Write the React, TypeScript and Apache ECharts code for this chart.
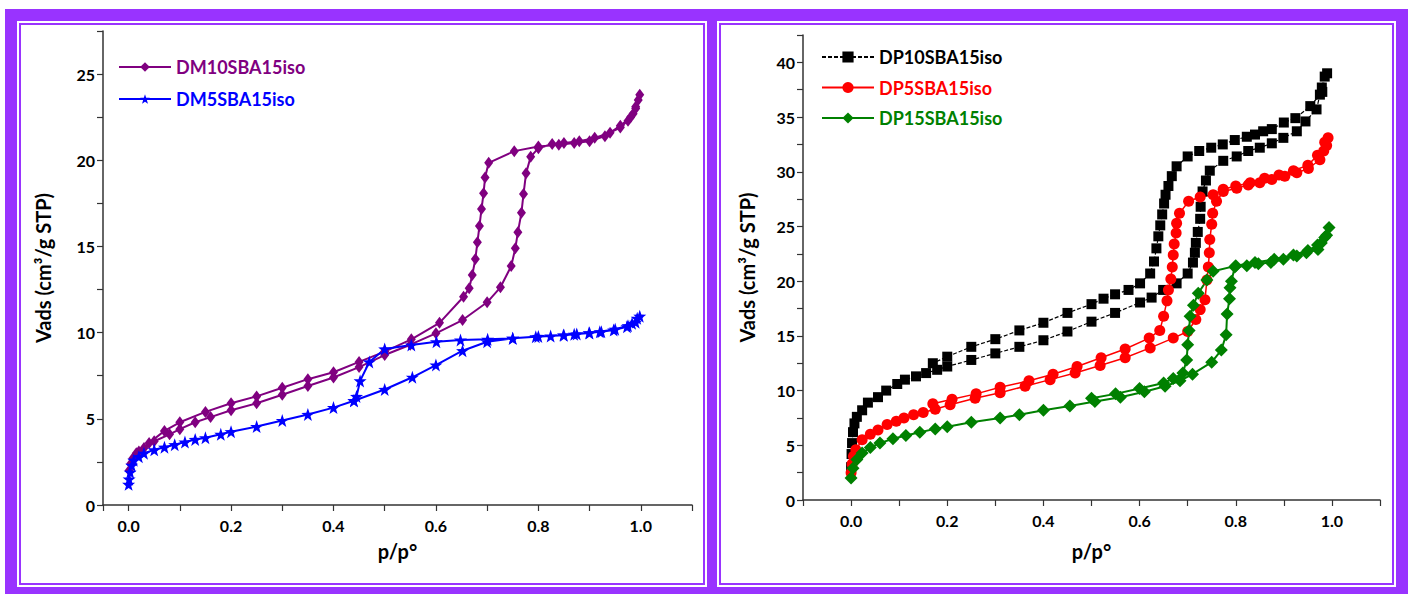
import React, { useEffect, useRef } from "react";
import * as echarts from "echarts";

// Isotherm branches as [p/p°, Vads] pairs
const dm10Ads: number[][] = [
  [0.001, 2.0], [0.004, 2.4], [0.008, 2.7], [0.015, 3.0], [0.03, 3.3], [0.05, 3.7], [0.08, 4.1],
  [0.1, 4.4], [0.13, 4.8], [0.16, 5.1], [0.2, 5.5], [0.25, 5.9], [0.3, 6.4], [0.35, 6.9], [0.4, 7.4],
  [0.45, 8.0], [0.5, 8.7], [0.55, 9.3], [0.6, 9.96], [0.652, 10.73], [0.7, 11.76], [0.726, 12.63],
  [0.747, 13.86], [0.755, 14.89], [0.76, 15.82], [0.767, 16.96], [0.771, 18.04], [0.776, 19.24],
  [0.785, 20.2], [0.8, 20.7], [0.827, 20.94], [0.85, 21.0], [0.88, 21.1], [0.91, 21.3], [0.94, 21.6],
  [0.96, 21.9], [0.975, 22.3], [0.985, 22.7], [0.99, 23.1], [0.995, 23.5], [0.998, 23.8],
];
const dm10Des: number[][] = [
  [0.99, 23.0], [0.98, 22.5], [0.96, 22.0], [0.93, 21.4], [0.9, 21.1], [0.87, 21.0], [0.84, 20.9],
  [0.8, 20.8], [0.753, 20.53], [0.703, 19.85], [0.696, 19.0], [0.693, 18.08], [0.689, 17.17],
  [0.685, 16.18], [0.681, 15.24], [0.677, 14.27], [0.671, 13.34], [0.665, 12.57], [0.654, 12.08],
  [0.607, 10.57], [0.552, 9.61], [0.5, 8.9], [0.45, 8.3], [0.4, 7.7], [0.35, 7.3], [0.3, 6.8],
  [0.25, 6.3], [0.2, 5.9], [0.15, 5.4], [0.1, 4.8], [0.07, 4.3], [0.04, 3.6], [0.02, 3.1],
];
const dm5Ads: number[][] = [
  [0.0, 1.2], [0.001, 1.5], [0.003, 1.9], [0.006, 2.3], [0.01, 2.6], [0.02, 2.8], [0.03, 3.0],
  [0.05, 3.2], [0.07, 3.35], [0.09, 3.5], [0.11, 3.65], [0.13, 3.8], [0.15, 3.9], [0.18, 4.1],
  [0.2, 4.25], [0.25, 4.55], [0.3, 4.9], [0.35, 5.25], [0.4, 5.65], [0.44, 6.05], [0.5, 6.7],
  [0.554, 7.41], [0.6, 8.12], [0.652, 8.95], [0.7, 9.47], [0.75, 9.67], [0.795, 9.76], [0.824, 9.8],
  [0.849, 9.86], [0.875, 9.92], [0.899, 9.99], [0.923, 10.05], [0.947, 10.15], [0.973, 10.34],
  [0.983, 10.54], [0.993, 10.83], [0.998, 10.95],
];
const dm5Des: number[][] = [
  [0.99, 10.6], [0.975, 10.4], [0.95, 10.2], [0.92, 10.05], [0.9, 9.98], [0.87, 9.9], [0.85, 9.85],
  [0.8, 9.78], [0.75, 9.67], [0.701, 9.61], [0.648, 9.57], [0.601, 9.47], [0.552, 9.28], [0.5, 9.05],
  [0.47, 8.3], [0.452, 7.2], [0.445, 6.3], [0.44, 6.05],
];

const dp10Ads: number[][] = [
  [0.0, 3.0], [0.001, 4.2], [0.002, 5.2], [0.004, 6.2], [0.007, 7.0], [0.012, 7.6], [0.023, 8.2],
  [0.035, 8.9], [0.056, 9.4], [0.073, 10.0], [0.096, 10.6], [0.112, 11.0], [0.135, 11.3],
  [0.156, 11.6], [0.179, 11.9], [0.2, 12.2], [0.25, 12.8], [0.3, 13.4], [0.35, 14.0], [0.4, 14.6],
  [0.45, 15.4], [0.5, 16.3], [0.549, 17.1], [0.601, 18.05], [0.625, 18.5], [0.649, 19.2],
  [0.677, 19.8], [0.7, 20.7], [0.711, 21.7], [0.715, 22.6], [0.717, 23.5], [0.721, 24.5],
  [0.726, 25.7], [0.727, 26.8], [0.731, 28.2], [0.738, 29.2], [0.746, 30.1], [0.774, 31.0],
  [0.802, 31.4], [0.826, 31.9], [0.85, 32.2], [0.875, 32.6], [0.899, 33.1], [0.927, 33.7],
  [0.945, 34.6], [0.968, 35.7], [0.975, 37.05], [0.979, 37.7], [0.985, 38.7], [0.99, 39.0],
];
const dp10Des: number[][] = [
  [0.98, 37.3], [0.955, 36.0], [0.924, 34.9], [0.9, 34.5], [0.875, 33.9], [0.857, 33.7],
  [0.84, 33.4], [0.823, 33.2], [0.798, 32.9], [0.773, 32.5], [0.749, 32.2], [0.724, 31.9],
  [0.7, 31.4], [0.677, 30.5], [0.667, 29.6], [0.66, 28.7], [0.654, 27.9], [0.651, 27.1],
  [0.647, 26.1], [0.643, 25.1], [0.639, 24.1], [0.635, 23.0], [0.63, 21.8], [0.622, 20.7],
  [0.601, 19.8], [0.577, 19.2], [0.549, 18.8], [0.525, 18.4], [0.5, 17.9], [0.45, 17.1],
  [0.4, 16.2], [0.35, 15.5], [0.3, 14.7], [0.25, 14.0], [0.2, 13.1], [0.17, 12.5],
];
const dp5Ads: number[][] = [
  [0.0, 2.5], [0.002, 3.3], [0.005, 4.0], [0.01, 4.6], [0.023, 5.5], [0.04, 6.0], [0.056, 6.4],
  [0.075, 6.9], [0.094, 7.2], [0.11, 7.5], [0.13, 7.8], [0.15, 8.0], [0.175, 8.3], [0.206, 8.7],
  [0.258, 9.3], [0.31, 9.8], [0.362, 10.4], [0.414, 11.0], [0.466, 11.6], [0.518, 12.3], [0.57, 13.0],
  [0.622, 13.9], [0.67, 14.8], [0.7, 15.4], [0.717, 16.5], [0.726, 17.4], [0.736, 18.3], [0.74, 20.1],
  [0.743, 21.3], [0.745, 22.6], [0.746, 23.8], [0.75, 25.2], [0.752, 26.2], [0.76, 27.3],
  [0.774, 28.2], [0.802, 28.5], [0.826, 28.8], [0.85, 29.0], [0.875, 29.3], [0.902, 29.6],
  [0.927, 29.9], [0.951, 30.3], [0.975, 31.1], [0.983, 31.9], [0.989, 32.4], [0.992, 33.1],
];
const dp5Des: number[][] = [
  [0.985, 32.7], [0.97, 31.5], [0.95, 30.6], [0.92, 30.1], [0.89, 29.7], [0.86, 29.4], [0.83, 29.0],
  [0.8, 28.7], [0.774, 28.4], [0.753, 27.9], [0.726, 27.7], [0.702, 27.3], [0.683, 26.2],
  [0.677, 25.3], [0.676, 24.4], [0.672, 23.4], [0.67, 22.4], [0.668, 21.3], [0.665, 20.2],
  [0.66, 19.2], [0.657, 18.2], [0.65, 16.8], [0.642, 15.5], [0.62, 14.8], [0.57, 13.8], [0.52, 13.0],
  [0.47, 12.2], [0.42, 11.5], [0.37, 10.9], [0.31, 10.3], [0.26, 9.7], [0.21, 9.2], [0.17, 8.8],
];
const dp15Ads: number[][] = [
  [0.0, 2.0], [0.004, 2.9], [0.012, 3.7], [0.023, 4.3], [0.04, 4.8], [0.06, 5.2], [0.087, 5.6],
  [0.114, 5.9], [0.143, 6.2], [0.175, 6.5], [0.2, 6.7], [0.25, 7.1], [0.31, 7.5], [0.35, 7.8],
  [0.4, 8.2], [0.455, 8.6], [0.507, 9.0], [0.56, 9.4], [0.61, 9.9], [0.653, 10.4], [0.684, 10.9],
  [0.71, 11.5], [0.75, 12.6], [0.77, 13.7], [0.78, 15.1], [0.782, 17.0], [0.787, 18.4],
  [0.788, 19.4], [0.791, 20.0], [0.798, 21.3], [0.823, 21.4], [0.847, 21.6], [0.873, 21.7],
  [0.899, 22.0], [0.927, 22.3], [0.947, 22.6], [0.971, 22.9], [0.978, 23.5], [0.989, 24.2],
  [0.994, 24.9],
];
const dp15Des: number[][] = [
  [0.985, 24.0], [0.97, 23.3], [0.95, 22.8], [0.92, 22.4], [0.88, 22.0], [0.84, 21.7], [0.8, 21.4],
  [0.753, 20.9], [0.74, 20.1], [0.722, 18.9], [0.712, 17.8], [0.705, 16.8], [0.703, 15.5],
  [0.7, 14.2], [0.698, 12.8], [0.69, 11.6], [0.67, 11.1], [0.65, 10.7], [0.6, 10.2], [0.55, 9.7],
  [0.5, 9.3],
];

const names = {
  dm10: "DM10SBA15iso",
  dm5: "DM5SBA15iso",
  dp10: "DP10SBA15iso",
  dp5: "DP5SBA15iso",
  dp15: "DP15SBA15iso",
};

const FRAME = "#9933ff";
const FONT = "Lato";
const AXIS_COLOR = "#333";
const STAR =
  "path://M0,-10L2.35,-3.24L9.51,-3.09L3.8,1.24L5.88,8.09L0,4L-5.88,8.09L-3.8,1.24L-9.51,-3.09L-2.35,-3.24Z";

const xLabel = (v: number) => {
  const t = Math.round(v * 10);
  return v > -1e-6 && v < 1.0001 && t % 2 === 0 ? (t / 10).toFixed(1) : "";
};
const yLabel = (v: number) => (Math.abs(v % 5) < 1e-6 ? String(Math.round(v)) : "");

const axisCommon = {
  axisLine: { onZero: false, lineStyle: { color: AXIS_COLOR, width: 1.5 } },
  axisTick: { inside: false, length: 6, lineStyle: { color: AXIS_COLOR, width: 1.2 } },
  splitLine: { show: false },
  nameTextStyle: { fontFamily: FONT, fontWeight: "bold" as const, fontSize: 20, color: "#000" },
};
const labelStyle = { fontFamily: FONT, fontWeight: "bold" as const, fontSize: 16, color: "#000" };

function makeXAxis(gridIndex: number, min: number, nameGap: number) {
  return {
    ...axisCommon,
    type: "value" as const,
    gridIndex,
    min,
    max: 1.1,
    splitNumber: 11,
    name: "p/p°",
    nameLocation: "middle" as const,
    nameGap,
    axisLabel: { ...labelStyle, margin: 12, formatter: xLabel },
  };
}
function makeYAxis(gridIndex: number, max: number, nameGap: number) {
  return {
    ...axisCommon,
    type: "value" as const,
    gridIndex,
    min: 0,
    max,
    interval: 2.5,
    name: "Vads (cm³/g STP)",
    nameLocation: "middle" as const,
    nameGap,
    axisLabel: { ...labelStyle, margin: 8, formatter: yLabel },
  };
}

function lineSeries(
  name: string,
  data: number[][],
  idx: number,
  color: string,
  symbol: string,
  symbolSize: number | number[],
  lineWidth: number,
  lineType: string | number[] = "solid"
) {
  return {
    type: "line" as const,
    name,
    xAxisIndex: idx,
    yAxisIndex: idx,
    data,
    symbol,
    symbolSize,
    showSymbol: true,
    smooth: false,
    color,
    itemStyle: { color },
    lineStyle: { color, width: lineWidth, type: lineType },
  };
}

const option = {
  animation: false,
  grid: [
    { left: 103, top: 31, width: 589, height: 474 },
    { left: 803, top: 35, width: 577, height: 465 },
  ],
  xAxis: [makeXAxis(0, -0.05, 36), makeXAxis(1, -0.1, 41)],
  yAxis: [makeYAxis(0, 27.5, 50), makeYAxis(1, 42.5, 46)],
  legend: [
    {
      left: 113,
      top: 53,
      orient: "vertical",
      itemWidth: 52,
      itemHeight: 12,
      itemGap: 14,
      textStyle: { fontFamily: FONT, fontWeight: "bold", fontSize: 18 },
      data: [
        { name: names.dm10, textStyle: { color: "#800080" } },
        { name: names.dm5, textStyle: { color: "#0000ff" } },
      ],
    },
    {
      left: 816,
      top: 43,
      orient: "vertical",
      itemWidth: 52,
      itemHeight: 14,
      itemGap: 12.5,
      textStyle: { fontFamily: FONT, fontWeight: "bold", fontSize: 18 },
      data: [
        { name: names.dp10, textStyle: { color: "#000000" } },
        { name: names.dp5, textStyle: { color: "#ff0000" } },
        { name: names.dp15, textStyle: { color: "#008000" } },
      ],
    },
  ],
  series: [
    lineSeries(names.dm10, [...dm10Ads, ...dm10Des], 0, "#800080", "diamond", [9, 12], 2),
    lineSeries(names.dm5, [...dm5Ads, ...dm5Des], 0, "#0000ff", STAR, 13, 2),
    lineSeries(names.dp10, [...dp10Ads, ...dp10Des], 1, "#000000", "rect", 10, 1.2, [4, 2]),
    lineSeries(names.dp5, [...dp5Ads, ...dp5Des], 1, "#ff0000", "circle", 11, 1.5),
    lineSeries(names.dp15, [...dp15Ads, ...dp15Des], 1, "#008000", "diamond", 13, 2),
  ],
};

export default function App() {
  const ref = useRef<HTMLDivElement>(null);
  useEffect(() => {
    if (!ref.current) return;
    const chart = echarts.init(ref.current, null, { renderer: "svg" });
    chart.setOption(option as any);
    return () => chart.dispose();
  }, []);

  const panel = (left: number, width: number) => (
    <div
      style={{
        position: "absolute",
        left,
        top: 21,
        width,
        height: 566,
        background: "#fff",
      }}
    >
      <div
        style={{
          position: "absolute",
          left: 2,
          top: 2,
          right: 2,
          bottom: 2,
          border: `2px solid ${FRAME}`,
          background: "#fff",
        }}
      />
    </div>
  );

  return (
    <div style={{ position: "fixed", left: 0, top: 0, width: 1411, height: 594, background: "#fff", overflow: "hidden" }}>
      <div style={{ position: "absolute", left: 5, top: 9, width: 1403, height: 585, background: FRAME }} />
      {panel(17, 690)}
      {panel(717, 679)}
      <div ref={ref} style={{ position: "absolute", left: 0, top: 0, width: 1411, height: 594 }} />
    </div>
  );
}
